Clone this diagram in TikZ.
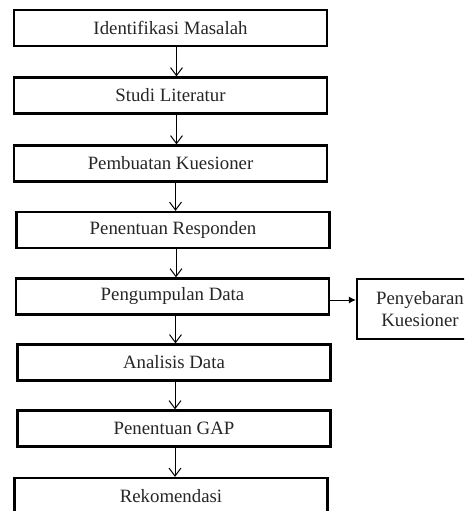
\documentclass[tikz,border=0pt]{standalone}
\usepackage{fontspec}
\setmainfont{Liberation Serif}
\usepackage{tikz}
\usetikzlibrary{arrows.meta, positioning}

\begin{document}
\begin{tikzpicture}[
      x=1pt, y=-1pt,
      every node/.style={font=\fontsize{18.8}{22}\selectfont, text=black!85},
      box/.style={draw, line width=2.2pt, inner sep=0pt, minimum width=313pt, minimum height=36pt, align=center},
      sidebox/.style={box, line width=2.2pt, minimum width=126pt, minimum height=60pt},
      arrow/.style={-{Straight Barb[length=8pt, width=12pt]}, line width=1pt},
      arrowfill/.style={-{Latex[length=7pt, width=7pt]}, line width=1pt}
  ]
      % Canvas
      \clip (0,0) rectangle (464,511);

      % Main flow
      \node[box] (idm) at (170.5,28) {Identifikasi Masalah};
      \node[box] (stl) at (170.5,95.5) {Studi Literatur};
      \node[box] (pkq) at (170.5,163.5) {Pembuatan Kuesioner};
      \node[box] (prs) at (173,230) {Penentuan Responden};
      \node[box] (pgd) at (172.5,296.5) {Pengumpulan Data};
      \node[box] (ans) at (174,362.5) {Analisis Data};
      \node[box] (gap) at (174,428.5) {Penentuan GAP};
      \node[box] (rek) at (171,496) {Rekomendasi};

      % Side step
      \node[sidebox] (pyb) at (420,309) {Penyebaran\\Kuesioner};

      % Connectors
      \draw[arrow] ([xshift=6pt]idm.south) -- ([xshift=6pt]stl.north);
      \draw[arrow] ([xshift=6pt]stl.south) -- ([xshift=6pt]pkq.north);
      \draw[arrow] ([xshift=5pt]pkq.south) -- ([xshift=5pt]pkq.south |- prs.north);
      \draw[arrow] ([xshift=3pt]prs.south) -- ([xshift=3pt]prs.south |- pgd.north);
      \draw[arrow] ([xshift=3pt]pgd.south) -- ([xshift=3pt]pgd.south |- ans.north);
      \draw[arrow] ([xshift=1pt]ans.south) -- ([xshift=1pt]gap.north);
      \draw[arrow] ([xshift=1pt]gap.south) -- ([xshift=1pt]gap.south |- rek.north);
      \draw[arrowfill] ([yshift=-3.5pt]pgd.east) -- ([yshift=-3.5pt]pgd.east -| pyb.west);
  \end{tikzpicture}
\end{document}
